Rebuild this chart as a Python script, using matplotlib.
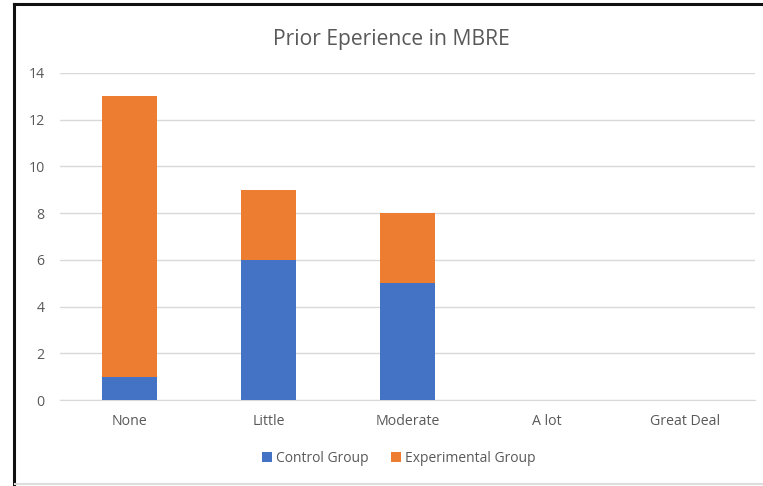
import numpy as np
import matplotlib as mpl
from matplotlib import pyplot as plt
from matplotlib.lines import Line2D

categories = ['None', 'Little', 'Moderate', 'A lot', 'Great Deal']
control = [1, 6, 5, 0, 0]
experimental = [12, 3, 3, 0, 0]
yticks = [0, 2, 4, 6, 8, 10, 12, 14]

plt.rcParams['font.family'] = ['Open Sans', 'DejaVu Sans']

W, H = 763, 486
fig = plt.figure(figsize=(W/100., H/100.), dpi=100)
ax = fig.add_axes([60./W, 1 - 400./H, 695./W, (400. - 73.)/H])

x = np.arange(len(categories))
ax.bar(x, control, width=0.4, color='#4472C4', label='Control Group', zorder=3)
ax.bar(x, experimental, width=0.4, bottom=control, color='#ED7D31',
       label='Experimental Group', zorder=3)

ax.set_xlim(-0.5, len(categories) - 0.5)
ax.set_ylim(0, 14)
ax.set_yticks(yticks)
ax.set_xticks(x)
ax.set_xticklabels(categories)
ax.grid(axis='y', color='#D9D9D9', lw=1, zorder=0)
ax.tick_params(length=0, colors='#595959', labelsize=10.2)
ax.tick_params(axis='x', pad=10)
ax.tick_params(axis='y', pad=11)
for s in ax.spines.values():
    s.set_visible(False)
ax.spines['bottom'].set_visible(True)
ax.spines['bottom'].set_color('#D9D9D9')

fig.text(391./W, 1 - 40./H, 'Prior Eperience in MBRE', ha='center', va='center',
         fontsize=15.2, color='#595959')

fig.legend(loc='center', bbox_to_anchor=(399./W, 1 - 458./H), ncol=2, frameon=False,
           fontsize=10, handlelength=0.7, handleheight=0.7, handletextpad=0.3,
           columnspacing=1.6, labelcolor='#595959')

# frame round the picture
fig.add_artist(Line2D([14./W, 14./W], [0, 1 - 4./H], color='#111111', lw=2.2))
fig.add_artist(Line2D([14./W, 1], [1 - 4./H, 1 - 4./H], color='#111111', lw=2.2))
fig.add_artist(Line2D([15./W, 1], [1 - 484./H, 1 - 484./H], color='#DDDDDD', lw=1.5))

fig.savefig('out.png', dpi=100)
